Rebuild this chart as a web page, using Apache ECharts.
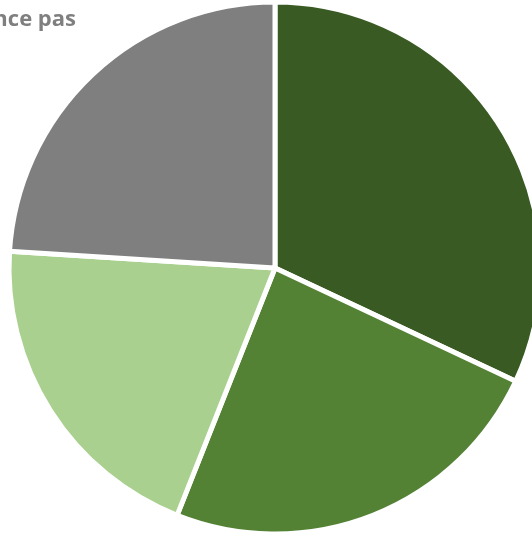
<!DOCTYPE html>
<html>
<head>
<meta charset="utf-8">
<script src="https://cdn.jsdelivr.net/npm/echarts@6/dist/echarts.min.js"></script>
<style>
html,body{margin:0;padding:0;background:#fff;}
#c{width:532px;height:533px;}
</style>
</head>
<body>
<div id="c"></div>
<script>
var categories = ['Oui', 'Plutôt oui', 'Non', 'Ne se prononce pas'];
var values = [32, 24, 20, 24];
var colors = ['#3a5a24', '#548235', '#a9d08e', '#7f7f7f'];

var chart = echarts.init(document.getElementById('c'));
chart.setOption({
  animation: false,
  backgroundColor: '#ffffff',
  graphic: [{
    type: 'text',
    x: 76,
    y: 31,
    style: {
      text: categories[3],
      fill: '#7f7f7f',
      align: 'right',
      verticalAlign: 'bottom',
      fontSize: 22,
      fontWeight: 'bold',
      fontFamily: '"Open Sans", sans-serif'
    }
  }],
  series: [{
    type: 'pie',
    center: [275, 268],
    radius: [0, 266],
    startAngle: 90,
    clockwise: true,
    label: { show: false },
    labelLine: { show: false },
    itemStyle: { borderColor: '#ffffff', borderWidth: 5 },
    data: categories.map(function (n, i) {
      return { name: n, value: values[i], itemStyle: { color: colors[i] } };
    })
  }]
});
</script>
</body>
</html>
